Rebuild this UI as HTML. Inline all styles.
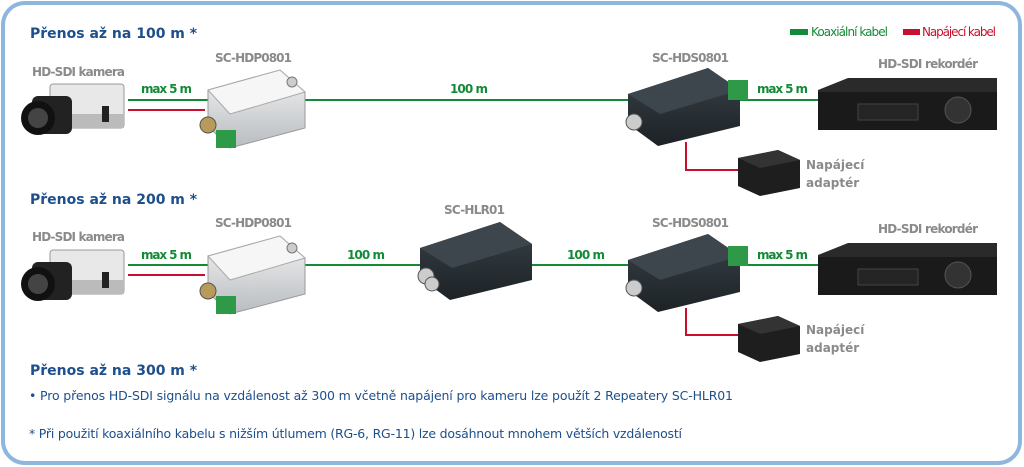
<!DOCTYPE html>
<html><head><meta charset="utf-8"><style>
html,body{margin:0;padding:0;background:#fff;}
svg{display:block;font-family:"DejaVu Sans","Liberation Sans",sans-serif;}
.t{fill:#1d4f8c;font-weight:bold;font-size:14px;}
.g{fill:#8a8a8a;font-weight:bold;font-size:12px;}
.gr{fill:#138a36;font-weight:bold;font-size:12px;}
.b{fill:#1d4f8c;font-size:12.5px;}
</style></head><body>
<svg width="1024" height="467" viewBox="0 0 1024 467" xmlns="http://www.w3.org/2000/svg">
<defs>
<linearGradient id="sil" x1="0" y1="0" x2="0" y2="1"><stop offset="0" stop-color="#f4f4f4"/><stop offset="1" stop-color="#b8bcc0"/></linearGradient>
<linearGradient id="drk" x1="0" y1="0" x2="0" y2="1"><stop offset="0" stop-color="#3a4248"/><stop offset="1" stop-color="#1c2226"/></linearGradient>
<g id="cam">
<rect x="26" y="0" width="74" height="44" rx="3" fill="#e8e8e8" stroke="#999"/>
<rect x="26" y="30" width="74" height="14" fill="#bbb"/>
<rect x="8" y="12" width="40" height="38" rx="6" fill="#222"/>
<circle cx="14" cy="34" r="17" fill="#111"/><circle cx="14" cy="34" r="10" fill="#444"/>
<rect x="78" y="22" width="7" height="16" fill="#222"/>
</g>
<g id="hdp">
<polygon points="8,20 80,0 105,22 105,58 30,78 8,56" fill="url(#sil)" stroke="#999"/>
<polygon points="8,20 80,0 105,22 30,44" fill="#f6f6f6" stroke="#aaa"/>
<circle cx="8" cy="55" r="8" fill="#b89a5a" stroke="#555"/>
<rect x="16" y="60" width="20" height="18" fill="#2e9a48"/>
<circle cx="92" cy="12" r="5" fill="#ccc" stroke="#777"/>
</g>
<g id="dark">
<polygon points="0,26 80,0 112,22 112,58 30,78 0,56" fill="url(#drk)"/>
<polygon points="0,26 80,0 112,22 32,46" fill="#3c464c"/>
<circle cx="6" cy="54" r="8" fill="#ccc" stroke="#555"/>
</g>
<g id="rec">
<polygon points="0,12 30,0 179,0 179,46 0,46" fill="#2a2a2a"/>
<rect x="0" y="14" width="179" height="38" fill="#1a1a1a"/>
<circle cx="140" cy="32" r="13" fill="#333" stroke="#555"/>
<rect x="40" y="26" width="60" height="16" fill="#252525" stroke="#444"/>
</g>
<g id="ad">
<polygon points="0,8 40,0 62,10 62,38 22,46 0,36" fill="#1e1e1e"/>
<polygon points="0,8 40,0 62,10 22,18" fill="#333"/>
</g>
</defs>
<rect x="3" y="3" width="1017" height="460" rx="22" fill="#fff" stroke="#8fb6dd" stroke-width="4"/>

<text x="30" y="38" class="t">Přenos až na 100 m *</text>
<rect x="790" y="29" width="18" height="6" fill="#138a36"/>
<text x="811" y="36" fill="#138a36" font-size="12" textLength="77">Koaxiální kabel</text>
<rect x="903" y="29" width="17" height="6" fill="#c8102e"/>
<text x="922" y="36" fill="#c8102e" font-size="12" textLength="74">Napájecí kabel</text>

<!-- row 1 -->
<line x1="128" y1="100" x2="640" y2="100" stroke="#138a36" stroke-width="2"/>
<line x1="128" y1="110" x2="205" y2="110" stroke="#c8102e" stroke-width="2"/>
<line x1="740" y1="100" x2="820" y2="100" stroke="#138a36" stroke-width="2"/>
<polyline points="686,142 686,170 740,170" fill="none" stroke="#c8102e" stroke-width="2"/>
<text x="32" y="76" class="g" textLength="93">HD-SDI kamera</text>
<text x="215" y="62" class="g" textLength="77">SC-HDP0801</text>
<text x="141" y="93" class="gr" textLength="51">max 5 m</text>
<text x="450" y="93" class="gr" textLength="38">100 m</text>
<text x="652" y="62" class="g" textLength="77">SC-HDS0801</text>
<text x="757" y="93" class="gr" textLength="51">max 5 m</text>
<text x="878" y="68" class="g" textLength="100">HD-SDI rekordér</text>
<text x="806" y="169" class="g">Napájecí</text>
<text x="806" y="187" class="g">adaptér</text>
<use href="#cam" x="24" y="84"/>
<use href="#hdp" x="200" y="70"/>
<use href="#dark" x="628" y="68"/>
<rect x="728" y="80" width="20" height="20" fill="#2e9a48"/>
<use href="#rec" x="818" y="78"/>
<use href="#ad" x="738" y="150"/>

<!-- row 2 -->
<text x="30" y="204" class="t">Přenos až na 200 m *</text>
<line x1="128" y1="265" x2="640" y2="265" stroke="#138a36" stroke-width="2"/>
<line x1="128" y1="275" x2="205" y2="275" stroke="#c8102e" stroke-width="2"/>
<line x1="740" y1="265" x2="820" y2="265" stroke="#138a36" stroke-width="2"/>
<polyline points="686,308 686,335 740,335" fill="none" stroke="#c8102e" stroke-width="2"/>
<text x="32" y="241" class="g" textLength="93">HD-SDI kamera</text>
<text x="215" y="227" class="g" textLength="77">SC-HDP0801</text>
<text x="141" y="259" class="gr" textLength="51">max 5 m</text>
<text x="347" y="259" class="gr" textLength="38">100 m</text>
<text x="444" y="214" class="g" textLength="61">SC-HLR01</text>
<text x="567" y="259" class="gr" textLength="38">100 m</text>
<text x="652" y="227" class="g" textLength="77">SC-HDS0801</text>
<text x="757" y="259" class="gr" textLength="51">max 5 m</text>
<text x="878" y="233" class="g" textLength="100">HD-SDI rekordér</text>
<text x="806" y="334" class="g">Napájecí</text>
<text x="806" y="352" class="g">adaptér</text>
<use href="#cam" x="24" y="250"/>
<use href="#hdp" x="200" y="236"/>
<use href="#dark" x="420" y="222"/>
<circle cx="432" cy="284" r="7" fill="#ccc" stroke="#555"/>
<use href="#dark" x="628" y="234"/>
<rect x="728" y="246" width="20" height="20" fill="#2e9a48"/>
<use href="#rec" x="818" y="243"/>
<use href="#ad" x="738" y="316"/>

<!-- bottom -->
<text x="30" y="375" class="t">Přenos až na 300 m *</text>
<text x="29" y="400" class="b" textLength="704">• Pro přenos HD-SDI signálu na vzdálenost až 300 m včetně napájení pro kameru lze použít 2 Repeatery SC-HLR01</text>
<text x="29" y="438" class="b" textLength="653">* Při použití koaxiálního kabelu s nižším útlumem (RG-6, RG-11) lze dosáhnout mnohem větších vzdáleností</text>
</svg>
</body></html>
